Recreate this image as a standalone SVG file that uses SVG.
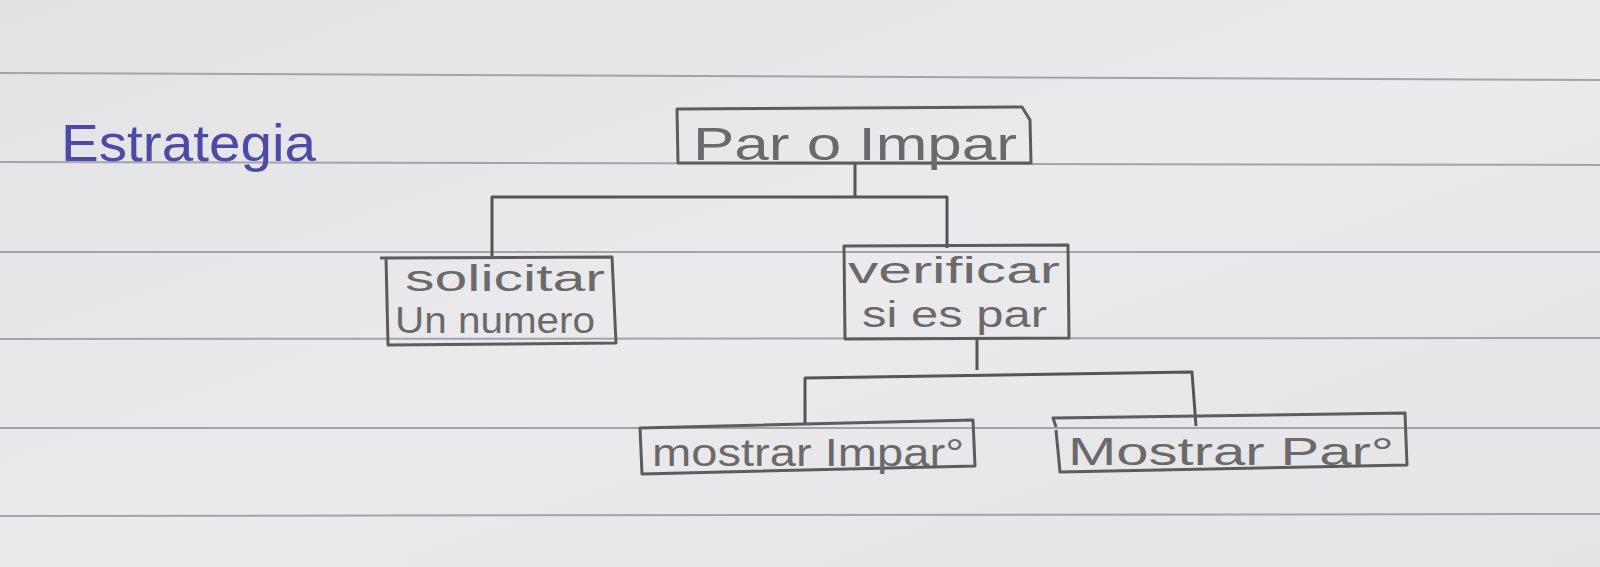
<svg xmlns="http://www.w3.org/2000/svg" width="1600" height="567" viewBox="0 0 1600 567">
  <defs>
    <linearGradient id="paper" x1="0" y1="0" x2="1" y2="1">
      <stop offset="0" stop-color="#e2e2e4"/>
      <stop offset="0.5" stop-color="#ebebed"/>
      <stop offset="1" stop-color="#e4e4e6"/>
    </linearGradient>
    <style>
      .rule { stroke: #a3a3ab; stroke-width: 2; fill: none; }
      .box { fill: none; stroke: #5c5c5c; stroke-width: 3; stroke-linejoin: round; }
      .wire { fill: none; stroke: #555; stroke-width: 3; stroke-linejoin: round; }
      .lbl { font-family: "Liberation Sans", "DejaVu Sans", sans-serif; fill: #6a6a6a; }
      .title { font-family: "Liberation Sans", "DejaVu Sans", sans-serif; fill: #4b4aa6; }
    </style>
  </defs>
  <rect x="0" y="0" width="1600" height="567" fill="url(#paper)"/>
  <g id="ruled-lines">
    <line class="rule" x1="0" y1="73" x2="1600" y2="80"/>
    <line class="rule" x1="0" y1="162" x2="1600" y2="165"/>
    <line class="rule" x1="0" y1="252" x2="1600" y2="252"/>
    <line class="rule" x1="0" y1="339" x2="1600" y2="338"/>
    <line class="rule" x1="0" y1="428" x2="1600" y2="428"/>
    <line class="rule" x1="0" y1="516" x2="1600" y2="514"/>
  </g>

  <g id="title">
    <text class="title" x="61" y="161" font-size="52" textLength="255" lengthAdjust="spacingAndGlyphs">Estrategia</text>
  </g>

  <g id="connectors">
    <path class="wire" d="M855,163 L855,197 M492,256 L492,197 L947,197 L947,248"/>
    <path class="wire" d="M977,339 L977,370 M805,424 L805,378 L1192,372 L1196,426"/>
  </g>

  <g id="node-root">
    <path class="box" d="M678,163 L677,109 L1022,107 L1030,120 L1031,163 Z"/>
    <text class="lbl" x="693" y="160" font-size="46" textLength="324" lengthAdjust="spacingAndGlyphs">Par o Impar</text>
  </g>

  <g id="node-solicitar">
    <path class="box" d="M380,258 L612,257 L616,343 L388,345 L386,258"/>
    <text class="lbl" x="405" y="291" font-size="36" textLength="200" lengthAdjust="spacingAndGlyphs">solicitar</text>
    <text class="lbl" x="395" y="333" font-size="36" textLength="200" lengthAdjust="spacingAndGlyphs">Un numero</text>
  </g>

  <g id="node-verificar">
    <path class="box" d="M844,246 L1068,245 L1069,338 L845,339 Z"/>
    <text class="lbl" x="848" y="283" font-size="36" textLength="212" lengthAdjust="spacingAndGlyphs">verificar</text>
    <text class="lbl" x="862" y="327" font-size="36" textLength="185" lengthAdjust="spacingAndGlyphs">si es par</text>
  </g>

  <g id="node-mostrar-impar">
    <path class="box" d="M640,428 L973,420 L975,466 L642,474 Z"/>
    <text class="lbl" x="652" y="466" font-size="38" textLength="312" lengthAdjust="spacingAndGlyphs">mostrar Impar°</text>
  </g>

  <g id="node-mostrar-par">
    <path class="box" d="M1056,427 L1053,418 L1405,413 L1407,465 L1060,472 L1056,430"/>
    <text class="lbl" x="1068" y="465" font-size="38" textLength="326" lengthAdjust="spacingAndGlyphs">Mostrar Par°</text>
  </g>
</svg>
